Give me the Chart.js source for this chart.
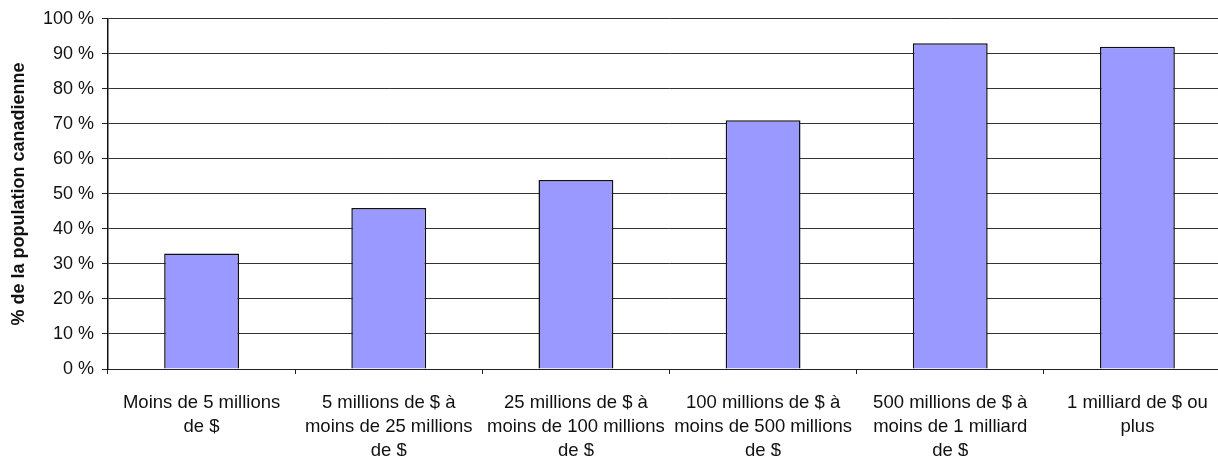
<!DOCTYPE html>
<html lang="fr">
<head>
<meta charset="utf-8">
<title>Population canadienne par taille</title>
<script src="https://cdn.jsdelivr.net/npm/chart.js@4/dist/chart.umd.min.js"></script>
<style>
  html, body { margin: 0; padding: 0; background: #fff; overflow: hidden; }
  canvas { display: block; }
</style>
</head>
<body>
<canvas id="chart" width="1231" height="470"></canvas>
<script>
// categories (each entry is the wrapped label lines)
const categories = [
  ['Moins de 5 millions', 'de $'],
  ['5 millions de $ à', 'moins de 25 millions', 'de $'],
  ['25 millions de $ à', 'moins de 100 millions', 'de $'],
  ['100 millions de $ à', 'moins de 500 millions', 'de $'],
  ['500 millions de $ à', 'moins de 1 milliard', 'de $'],
  ['1 milliard de $ ou', 'plus']
];
const populationShare = [33, 46, 54, 71, 93, 92];
const yTicks = [0, 10, 20, 30, 40, 50, 60, 70, 80, 90, 100];

const font = "'Liberation Sans', Arial, sans-serif";

new Chart(document.getElementById('chart'), {
  type: 'bar',
  data: {
    labels: categories,
    datasets: [{
      data: populationShare,
      backgroundColor: '#9999ff',
      borderColor: '#111',
      borderWidth: 1.5,
      borderSkipped: 'bottom',
      barPercentage: 0.8,
      categoryPercentage: 0.5
    }]
  },
  options: {
    responsive: false,
    animation: false,
    devicePixelRatio: 1,
    layout: { padding: { top: 18, right: 0, left: 0, bottom: 0 } },
    plugins: {
      legend: { display: false },
      tooltip: { enabled: false }
    },
    scales: {
      x: {
        offset: true,
        border: { color: '#222', width: 1 },
        grid: {
          offset: true,
          drawOnChartArea: false,
          drawTicks: true,
          tickLength: 5,
          color: '#222'
        },
        ticks: {
          color: '#111',
          padding: 17,
          maxRotation: 0,
          autoSkip: false,
          font: { family: font, size: 18.5, lineHeight: 1.29 }
        },
        afterFit: (scale) => { scale.height = 101; }
      },
      y: {
        min: 0,
        max: 100,
        afterBuildTicks: (scale) => {
          scale.ticks = yTicks.map(v => ({ value: v }));
        },
        border: { color: '#111', width: 1.5 },
        grid: {
          color: '#333',
          lineWidth: 1,
          drawTicks: true,
          tickLength: 6,
          tickColor: '#222'
        },
        ticks: {
          color: '#111',
          padding: 8,
          font: { family: font, size: 18 },
          callback: (v) => v + ' %'
        },
        title: {
          display: true,
          text: '% de la population canadienne',
          color: '#111',
          padding: { top: 8, bottom: 0 },
          font: { family: font, size: 18, weight: 'bold' }
        },
        afterFit: (scale) => { scale.width = 108; }
      }
    }
  }
});
</script>
</body>
</html>
